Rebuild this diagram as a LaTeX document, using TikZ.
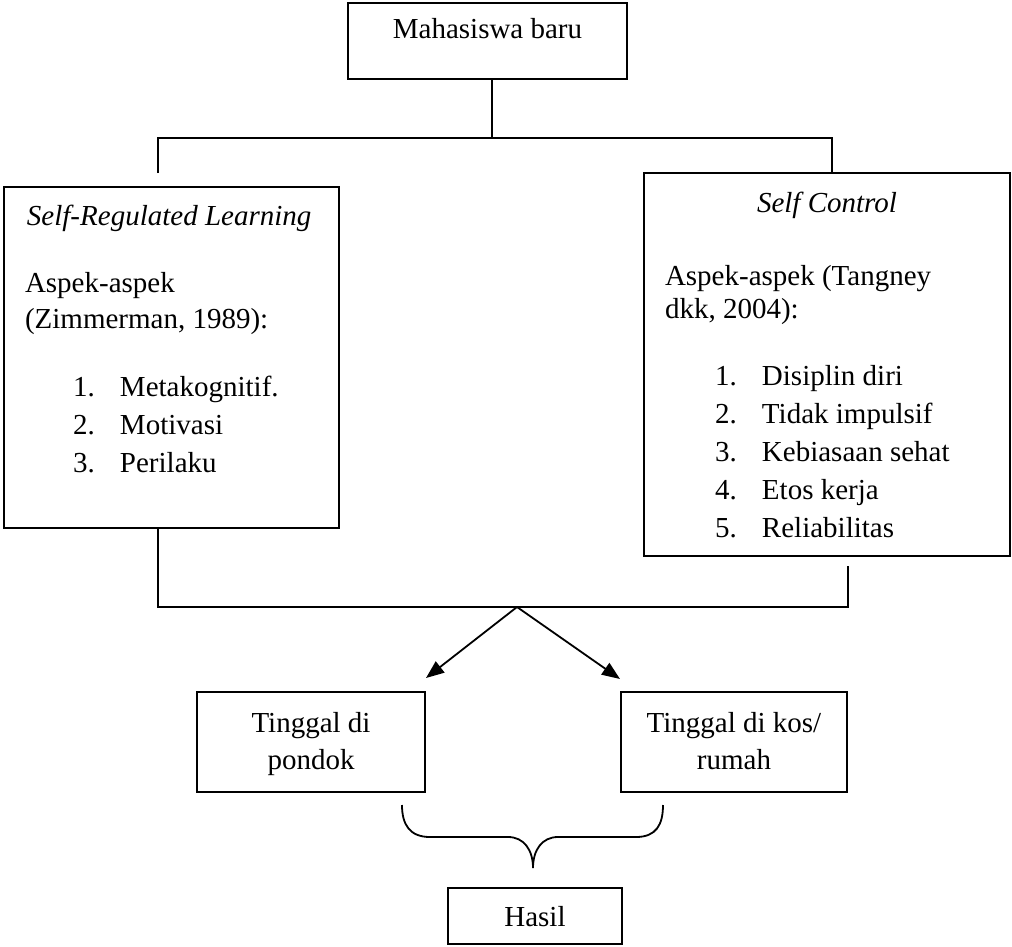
\documentclass[tikz,border=0pt]{standalone}
\usepackage{fontspec}
\setmainfont{Liberation Serif}
\usetikzlibrary{arrows.meta,calc}
\tikzset{
  box/.style={draw, line width=1.9pt, inner sep=0pt, outer sep=0pt},
  txt/.style={inner sep=0pt, outer sep=0pt, font=\fontsize{29pt}{34pt}\selectfont},
  conn/.style={line width=1.8pt},
  arr/.style={conn, -{Triangle[length=18pt,width=14pt]}}
}
\newcommand{\itm}[2]{\makebox[47pt][l]{#1}#2}
\begin{document}
\begin{tikzpicture}[x=1pt,y=-1pt]
\useasboundingbox (0,0) rectangle (1012,947);
% boxes
\node[box, minimum width=279pt, minimum height=76pt] (top) at (487.5,41) {};
\node[box, minimum width=335pt, minimum height=341pt] (left) at (171.5,357.5) {};
\node[box, minimum width=366pt, minimum height=383pt] (right) at (827,364.5) {};
\node[box, minimum width=228pt, minimum height=100pt] (pondok) at (311,742) {};
\node[box, minimum width=226pt, minimum height=100pt] (kos) at (734,742) {};
\node[box, minimum width=174pt, minimum height=56pt] (hasil) at (535,916) {};
% texts
\node[txt, anchor=base] (ttop) at (487.5,39) {Mahasiswa baru};
\node[txt, anchor=base west] (l1) at (27,225) {\itshape Self-Regulated Learning};
\node[txt, anchor=base west] (l2) at (25,292) {Aspek-aspek};
\node[txt, anchor=base west] (l3) at (25,328) {(Zimmerman, 1989):};
\node[txt, anchor=base west] (l4) at (73,396) {\itm{1.}{Metakognitif.}};
\node[txt, anchor=base west] (l5) at (73,434) {\itm{2.}{Motivasi}};
\node[txt, anchor=base west] (l6) at (73,472) {\itm{3.}{Perilaku}};
\node[txt, anchor=base] (r1) at (827,212) {\itshape Self Control};
\node[txt, anchor=base west] (r2) at (665,285) {Aspek-aspek (Tangney};
\node[txt, anchor=base west] (r3) at (665,318) {dkk, 2004):};
\node[txt, anchor=base west] (r4) at (715,385) {\itm{1.}{Disiplin diri}};
\node[txt, anchor=base west] (r5) at (715,423) {\itm{2.}{Tidak impulsif}};
\node[txt, anchor=base west] (r6) at (715,461) {\itm{3.}{Kebiasaan sehat}};
\node[txt, anchor=base west] (r7) at (715,499) {\itm{4.}{Etos kerja}};
\node[txt, anchor=base west] (r8) at (715,537) {\itm{5.}{Reliabilitas}};
\node[txt, anchor=base] (p1) at (311,732) {Tinggal di};
\node[txt, anchor=base] (p2) at (311,769) {pondok};
\node[txt, anchor=base] (k1) at (734,732) {Tinggal di kos/};
\node[txt, anchor=base] (k2) at (734,769) {rumah};
\node[txt, anchor=base] (h1) at (535,926) {Hasil};
% junction coordinates
\coordinate (j1) at (492,138);
\coordinate (jl) at (158,138);
\coordinate (jr) at (832,138);
\coordinate (lt) at (158,173);
\coordinate (lb) at (158,607);
\coordinate (rb) at (848,607);
\coordinate (rbt) at (848,566);
\coordinate (m) at (517,607);
\coordinate (ta) at (426,678);
\coordinate (tb) at (620,679);
% connectors
\draw[conn] (top.south -| j1) -- (j1);
\draw[conn] (lt) -- (jl) -- (jr) -- (right.north -| jr);
\draw[conn] (left.south -| lb) -- (lb) -- (rb) -- (rbt);
\draw[arr] (m) -- (ta);
\draw[arr] (m) -- (tb);
% brace
\draw[conn] (402,805) .. controls (402,825) and (410,837) .. (430,837) -- (508,837)
  .. controls (524,837) and (533,850) .. (533,868)
  .. controls (533,850) and (542,837) .. (558,837) -- (636,837)
  .. controls (656,837) and (663,825) .. (663,805);
\end{tikzpicture}
\end{document}
